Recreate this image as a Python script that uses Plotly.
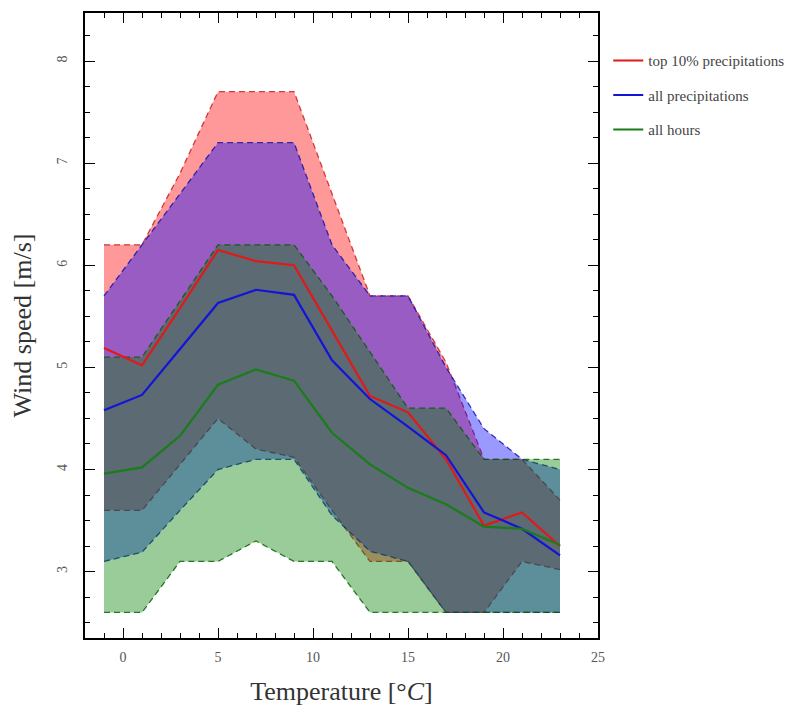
import plotly.graph_objects as go

temps = [-1, 1, 3, 5, 7, 9, 11, 13, 15, 17, 19, 21, 23]

top10_mid = [5.19, 5.02, 5.58, 6.15, 6.04, 6.0, 5.36, 4.72, 4.56, 4.1, 3.45, 3.58, 3.25]
top10_low = [3.6, 3.6, 4.05, 4.5, 4.2, 4.12, 3.6, 3.1, 3.1, 2.6, 2.6, 3.1, 3.02]
top10_high = [6.2, 6.2, 6.9, 7.7, 7.7, 7.7, 6.7, 5.7, 5.7, 5.05, 4.1, 4.1, 3.7]

allp_mid = [4.58, 4.73, 5.18, 5.63, 5.76, 5.71, 5.07, 4.69, 4.42, 4.14, 3.58, 3.42, 3.16]
allp_low = [3.1, 3.19, 3.6, 4.0, 4.1, 4.1, 3.55, 3.2, 3.1, 2.6, 2.6, 2.6, 2.6]
allp_high = [5.7, 6.2, 6.7, 7.2, 7.2, 7.2, 6.2, 5.7, 5.7, 5.0, 4.4, 4.1, 4.0]

allh_mid = [3.96, 4.02, 4.33, 4.83, 4.98, 4.87, 4.36, 4.05, 3.82, 3.66, 3.44, 3.42, 3.26]
allh_low = [2.6, 2.6, 3.1, 3.1, 3.3, 3.1, 3.1, 2.6, 2.6, 2.6, 2.6, 2.6, 2.6]
allh_high = [5.1, 5.1, 5.65, 6.2, 6.2, 6.2, 5.7, 5.15, 4.6, 4.6, 4.1, 4.1, 4.1]

names = ["top 10% precipitations", "all precipitations", "all hours"]
line_colors = ["rgb(225,25,25)", "rgb(20,20,215)", "rgb(25,125,25)"]
fill_colors = ["rgba(255,0,0,0.4)", "rgba(0,0,255,0.4)", "rgba(0,128,0,0.4)"]
edge_colors = ["rgba(200,30,30,0.85)", "rgba(20,20,170,0.85)", "rgba(0,90,0,0.8)"]

series = [
    (top10_mid, top10_low, top10_high),
    (allp_mid, allp_low, allp_high),
    (allh_mid, allh_low, allh_high),
]

fig = go.Figure()
for i, (mid, low, high) in enumerate(series):
    fig.add_trace(go.Scatter(x=temps, y=low, mode="lines",
                             line=dict(color=edge_colors[i], width=1.3, dash="6px,4px"),
                             showlegend=False, hoverinfo="skip"))
    fig.add_trace(go.Scatter(x=temps, y=high, mode="lines", fill="tonexty",
                             fillcolor=fill_colors[i],
                             line=dict(color=edge_colors[i], width=1.3, dash="6px,4px"),
                             showlegend=False, hoverinfo="skip"))

for i, (mid, low, high) in enumerate(series):
    fig.add_trace(go.Scatter(x=temps, y=mid, mode="lines", name=names[i],
                             legendgroup=names[i],
                             line=dict(color=line_colors[i], width=2.2)))

serif = "Liberation Serif"
axis_common = dict(
    showline=True, linewidth=2, linecolor="black", mirror="allticks",
    ticks="inside", ticklen=10, tickwidth=1.3, tickcolor="black",
    showgrid=False, zeroline=False,
    tickfont=dict(family=serif, size=14, color="#555"),
)

fig.update_xaxes(range=[-2, 25], dtick=5, tick0=0, ticklabelstandoff=5,
                 minor=dict(dtick=1, ticks="inside", ticklen=5, tickcolor="black", tickwidth=1.2),
                 title=dict(text="Temperature [°<i>C</i>]", font=dict(family=serif, size=26, color="#333"), standoff=18),
                 **axis_common)
fig.update_yaxes(range=[2.35, 8.47], dtick=1, tick0=0, tickangle=-90, ticklabelstandoff=10,
                 minor=dict(dtick=0.25, ticks="inside", ticklen=5, tickcolor="black", tickwidth=1.2),
                 title=dict(text="Wind speed [m/s]", font=dict(family=serif, size=26, color="#333"), standoff=20),
                 **axis_common)

fig.update_layout(
    width=803, height=706,
    margin=dict(l=77, r=213, t=3, b=76),
    plot_bgcolor="white", paper_bgcolor="white",
    legend=dict(x=1.02, y=0.95, xanchor="left", yanchor="top",
                traceorder="grouped", tracegroupgap=12,
                font=dict(family=serif, size=15, color="#444"),
                bgcolor="rgba(0,0,0,0)"),
)

fig.write_html("out.html")
